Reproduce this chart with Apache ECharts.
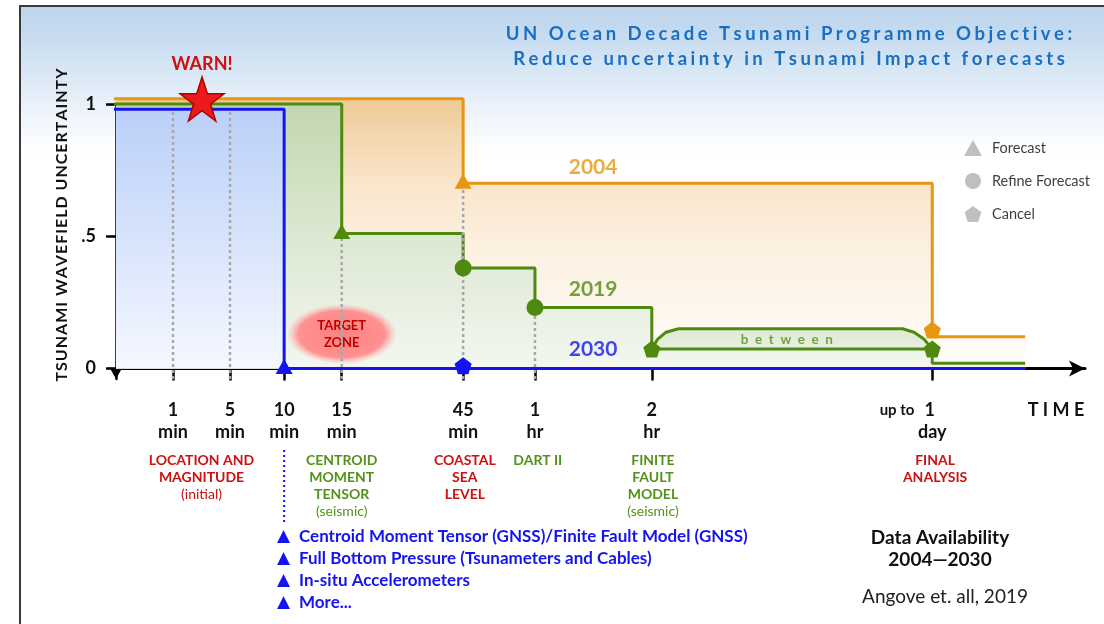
<!DOCTYPE html>
<html>
<head>
<meta charset="utf-8">
<title>Tsunami forecast uncertainty</title>
<script src="https://cdn.jsdelivr.net/npm/echarts@6/dist/echarts.min.js"></script>
<style>
  html, body { margin: 0; padding: 0; background: #fff; }
  #chart { width: 1104px; height: 624px; }
</style>
</head>
<body>
<div id="chart"></div>
<script>
// schematic time axis, one unit ~ one slot of the original figure (not linear in time)
const tickPos = [1, 2, 2.95, 3.96, 6.09, 7.35, 9.4, 14.32];
const tickLabels = ['1\nmin', '5\nmin', '10\nmin', '15\nmin', '45\nmin', '1\nhr', '2\nhr', '1\nday'];
const yTicks = [0, 0.5, 1];

const x2004 = [0, 6.09, 14.32, 15.95];
const y2004 = [1.02, 0.70, 0.12, 0.12];
const x2019 = [0, 3.96, 6.09, 7.35, 9.4, 14.32, 15.95];
const y2019 = [1.0, 0.51, 0.38, 0.23, 0.073, 0.02, 0.02];
const x2030 = [0, 2.95, 15.95];
const y2030 = [0.98, 0, 0];
const stubStart = -0.23;

// "between" band of 2019 (2 hr .. 1 day)
const betweenX = [9.4, 9.5, 9.65, 9.87, 13.8, 14.0, 14.18, 14.32];
const betweenY = [0.073, 0.11, 0.137, 0.15, 0.15, 0.137, 0.11, 0.073];

// markers [x, y, year]
const forecastPts = [[6.09, 0.70, '2004'], [3.96, 0.51, '2019'], [2.95, 0.0, '2030']];
const refinePts = [[6.09, 0.38, '2019'], [7.35, 0.23, '2019']];
const cancelPts = [[14.32, 0.145, '2004'], [9.4, 0.073, '2019'], [14.32, 0.073, '2019'], [6.09, 0.01, '2030']];

// grey dotted guides
const guideX = [1, 2, 3.96, 6.09, 7.35];
const guideTop = [0.98, 0.98, 0.51, 0.70, 0.23];

const yearNames = ['2004', '2019', '2030'];
const yearLabelX = [8.37, 8.37, 8.37];
const yearLabelY = [0.762, 0.30, 0.073];

const warnPt = [1.51, 1.019];
const targetPt = [3.96, 0.13];
const betweenLabelPt = [11.77, 0.107];

const sensorX = [1.5, 3.96, 6.12, 7.4, 9.42, 14.37];
const sensorNames = ['LOCATION AND\nMAGNITUDE', 'CENTROID\nMOMENT\nTENSOR', 'COASTAL\nSEA\nLEVEL', 'DART II', 'FINITE\nFAULT\nMODEL', 'FINAL\nANALYSIS'];
const sensorNotes = ['(initial)', '(seismic)', '', '', '(seismic)', ''];
const sensorKinds = ['red', 'green', 'red', 'green', 'green', 'red'];

const futureSources = [
  'Centroid Moment Tensor (GNSS)/Finite Fault Model (GNSS)',
  'Full Bottom Pressure (Tsunameters and Cables)',
  'In-situ Accelerometers',
  'More...'
];

const C = { '2004': '#e6960f', '2019': '#4f8a10', '2030': '#1414f0' };
const RED = '#cc1111';
const GREEN = '#53921a';
const pentagon = 'path://M50,0 L100,37 L81,96 L19,96 L0,37 Z';
const star = 'path://M50,0 L61.8,35.1 L98.8,35.1 L68.9,56.7 L80.3,91.9 L50,70.2 L19.7,91.9 L31.1,56.7 L1.2,35.1 L38.2,35.1 Z';

const grad = stops => new echarts.graphic.LinearGradient(0, 0, 0, 1,
  stops.map(s => ({ offset: s[0], color: s[1] })));
const spaced = (s, sp) => s.split('').join(sp);

function stepSeries(name, xs, ys, stops, z) {
  return {
    name: name, type: 'line', step: 'end', silent: true, clip: false,
    symbol: 'none', z: z,
    data: xs.map((x, i) => [x, ys[i]]),
    lineStyle: { color: C[name], width: 3 },
    areaStyle: { color: grad(stops), opacity: 1 }
  };
}
function stub(name, y) {
  return {
    type: 'line', silent: true, clip: false, symbol: 'none', z: 3,
    data: [[stubStart, y], [0, y]],
    lineStyle: { color: C[name], width: 3 }
  };
}
function markers(name, symbol, size, pts, offset) {
  return {
    name: name, type: 'scatter', symbol: symbol, symbolSize: size,
    symbolOffset: offset || [0, 0], z: 6, clip: false,
    itemStyle: { color: '#bfbfbf', opacity: 1 },
    data: pts.map(p => ({ value: [p[0], p[1]], itemStyle: { color: C[p[2]], opacity: 1 } }))
  };
}

const chart = echarts.init(document.getElementById('chart'));

const series = [
  stepSeries('2004', x2004, y2004, [[0, '#efca94'], [0.12, '#f3d5ab'], [0.32, '#fae6cc'], [0.55, '#fcf0e1'], [1, '#fffdfa']], 2),
  stub('2004', y2004[0]),
  {
    type: 'line', silent: true, clip: false, symbol: 'none', z: 2,
    data: betweenX.map((x, i) => [x, betweenY[i]]),
    lineStyle: { color: C['2019'], width: 3 },
    areaStyle: { color: grad([[0, '#dfe9d4'], [1, '#eff5ea']]), opacity: 1 }
  },
  stepSeries('2019', x2019, y2019, [[0, '#c2d7b0'], [0.5, '#dce8d2'], [1, '#f3f7ef']], 2),
  stub('2019', y2019[0]),
  {
    type: 'scatter', silent: true, symbol: 'circle', symbolSize: [110, 60], z: 3, clip: false,
    data: [{ value: targetPt }],
    itemStyle: {
      opacity: 1,
      color: new echarts.graphic.RadialGradient(0.5, 0.5, 0.5, [
        { offset: 0, color: 'rgba(255,128,128,1)' },
        { offset: 0.78, color: 'rgba(255,140,140,0.95)' },
        { offset: 1, color: 'rgba(255,170,170,0)' }
      ])
    },
    label: {
      show: true, position: 'inside', formatter: 'TARGET\nZONE',
      color: '#c00000', fontWeight: 'bold', fontSize: 13, lineHeight: 17
    }
  },
  stepSeries('2030', x2030, y2030, [[0, '#bacff8'], [1, '#f5f8ff']], 3),
  stub('2030', y2030[0])
];

guideX.forEach((x, i) => {
  series.push({
    type: 'line', silent: true, symbol: 'none', z: 4,
    data: [[x, -0.04], [x, guideTop[i]]],
    lineStyle: { color: '#a8a8a8', width: 2.5, type: [3, 3] }
  });
});

series.push(
  markers('Forecast', 'triangle', [17, 15], forecastPts, [0, -2]),
  markers('Refine Forecast', 'circle', 17, refinePts),
  markers('Cancel', pentagon, 17, cancelPts),
  {
    type: 'scatter', silent: true, symbol: star, symbolSize: 44, z: 7, clip: false,
    data: [{ value: warnPt }],
    itemStyle: { color: '#ec1a1a', borderColor: '#b00000', borderWidth: 1.5, opacity: 1 },
    label: {
      show: true, position: 'top', distance: 3, formatter: 'WARN!',
      color: RED, fontWeight: 'bold', fontSize: 18
    }
  },
  {
    type: 'scatter', silent: true, symbolSize: 0, z: 7, clip: false,
    data: yearNames.map((n, i) => ({
      value: [yearLabelX[i], yearLabelY[i]],
      label: { formatter: n, color: C[n] }
    })).concat([{
      value: betweenLabelPt,
      label: { formatter: spaced('between', '  '), color: GREEN, fontSize: 13.5 }
    }]),
    label: { show: true, position: 'inside', fontWeight: 'bold', fontSize: 21 }
  }
);

const option = {
  animation: false,
  textStyle: { fontFamily: 'Lato, "Open Sans", sans-serif' },
  grid: { left: 116, right: 19, top: 104, bottom: 245 },
  legend: {
    orient: 'vertical', left: 959, top: 135,
    itemWidth: 18, itemHeight: 16, itemGap: 17,
    selectedMode: false,
    textStyle: { fontSize: 14.5, color: '#404040', padding: [0, 0, 0, 5] },
    data: [
      { name: 'Forecast', icon: 'triangle' },
      { name: 'Refine Forecast', icon: 'circle' },
      { name: 'Cancel', icon: pentagon }
    ]
  },
  xAxis: {
    type: 'value', min: 0, max: 17,
    splitLine: { show: false },
    axisLine: {
      symbol: ['none', 'arrow'], symbolSize: [12, 16],
      lineStyle: { color: '#000', width: 3 }
    },
    axisTick: { customValues: tickPos, length: 12, lineStyle: { color: '#000', width: 2.5 } },
    axisLabel: {
      customValues: tickPos, margin: 20,
      color: '#111', fontWeight: 'bold', fontSize: 18, lineHeight: 22,
      formatter: function (v) {
        const i = tickPos.findIndex(t => Math.abs(t - v) < 1e-6);
        const s = i < 0 ? '' : tickLabels[i];
        if (i === tickPos.length - 1) {
          const parts = s.split('\n');
          return '{u|up to}{g|}{n|' + parts[0] + '}{p|}\n{n|' + parts[1] + '}';
        }
        return s;
      },
      rich: {
        u: { fontSize: 15, fontWeight: 'bold', color: '#111' },
        g: { width: 10 },
        n: { fontSize: 18, fontWeight: 'bold', color: '#111', lineHeight: 22 },
        p: { width: 50 }
      }
    }
  },
  yAxis: {
    type: 'value', min: -0.04, max: 1,
    splitLine: { show: false },
    axisLine: {
      symbol: ['arrow', 'none'], symbolSize: [10, 12],
      lineStyle: { color: '#000', width: 2.5 }
    },
    axisTick: { customValues: yTicks, length: 10, lineStyle: { color: '#000', width: 2.5 } },
    axisLabel: {
      customValues: yTicks, margin: 20,
      color: '#111', fontWeight: 'bold', fontSize: 18,
      formatter: v => (v === 0.5 ? '.5' : String(v))
    }
  },
  series: series
};

chart.setOption(option);

// annotations outside the plotting area
const px = x => chart.convertToPixel({ xAxisIndex: 0, yAxisIndex: 0 }, [x, 0])[0];
const font = 'Lato, "Open Sans", sans-serif';
const graphic = [
  {
    type: 'rect', z: -100, silent: true,
    shape: { x: 20, y: 6, width: 1100, height: 640 },
    style: {
      fill: grad([[0, '#bcd4ec'], [0.03, '#c2d8ee'], [0.085, '#d2e3f3'], [0.15, '#e8f0f9'], [0.2, '#f7fafd'], [0.23, '#ffffff'], [1, '#ffffff']]),
      stroke: '#3a3a3a', lineWidth: 2
    }
  },
  {
    type: 'text', x: 789, y: 34, silent: true,
    style: {
      text: spaced('UN Ocean Decade Tsunami Programme Objective:', '\u2009\u200a'),
      fill: '#1a6fc0', font: 'bold 18.5px ' + font, align: 'center', verticalAlign: 'middle'
    }
  },
  {
    type: 'text', x: 789, y: 59, silent: true,
    style: {
      text: spaced('Reduce uncertainty in Tsunami Impact forecasts', '\u2009\u200a'),
      fill: '#1a6fc0', font: 'bold 18.5px ' + font, align: 'center', verticalAlign: 'middle'
    }
  },
  {
    type: 'text', x: 62, y: 225, rotation: Math.PI / 2, silent: true,
    style: {
      text: spaced('TSUNAMI WAVEFIELD UNCERTAINTY', '\u200a'),
      fill: '#111', font: 'bold 16px ' + font, align: 'center', verticalAlign: 'middle'
    }
  },
  {
    type: 'text', x: 1056, y: 410, silent: true,
    style: {
      text: 'T I M E', fill: '#111', font: 'bold 18px ' + font,
      align: 'center', verticalAlign: 'middle'
    }
  },
  {
    type: 'line', silent: true,
    shape: { x1: px(2.95), y1: 450, x2: px(2.95), y2: 522 },
    style: { stroke: '#1414f0', lineWidth: 2, lineDash: [2, 3] }
  },
  {
    type: 'text', x: 277, y: 526, silent: true,
    style: {
      text: futureSources.map(s => '{t|\u25B2}{b|' + s + '}').join('\n'),
      fill: '#1414f0',
      rich: {
        t: { fill: '#1414f0', font: '17px "DejaVu Sans"', width: 22, lineHeight: 22 },
        b: { fill: '#1414f0', font: 'bold 17px ' + font, lineHeight: 22 }
      }
    }
  },
  {
    type: 'text', x: 940, y: 527, silent: true,
    style: {
      text: 'Data Availability\n2004\u20142030', fill: '#111',
      font: 'bold 19px ' + font, lineHeight: 22, align: 'center'
    }
  },
  {
    type: 'text', x: 945, y: 597, silent: true,
    style: {
      text: 'Angove et. all, 2019', fill: '#222',
      font: '19px ' + font, align: 'center', verticalAlign: 'middle'
    }
  }
];

sensorX.forEach((x, i) => {
  const col = sensorKinds[i] === 'red' ? RED : GREEN;
  let txt = sensorNames[i].split('\n').map(l => '{b|' + l + '}').join('\n');
  if (sensorNotes[i]) txt += '\n{n|' + sensorNotes[i] + '}';
  graphic.push({
    type: 'text', x: px(x), y: 452, silent: true,
    style: {
      text: txt, align: 'center', verticalAlign: 'top',
      rich: {
        b: { fill: col, font: 'bold 14px ' + font, lineHeight: 17, align: 'center' },
        n: { fill: col, font: '14px ' + font, lineHeight: 17, align: 'center' }
      }
    }
  });
});

chart.setOption({ graphic: graphic });
</script>
</body>
</html>
